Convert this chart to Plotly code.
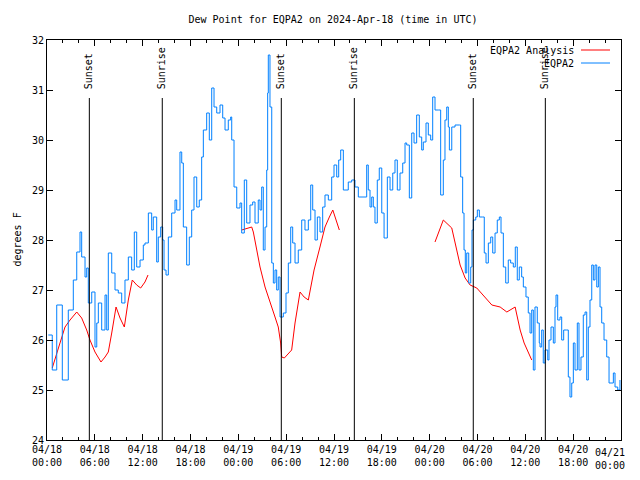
import pandas as pd
import plotly.graph_objects as go

# Observed dew point (EQPA2): hours after 2024-04-18 00:00 UTC and value (deg F)
obs_hours = [0.16, 0.66, 1.22, 1.92, 2.67, 3.01, 3.30, 3.73, 4.14, 4.35, 4.77, 4.98, 5.18, 5.61,
             6.02, 6.24, 6.44, 6.86, 7.28, 7.49, 7.69, 8.12, 8.53, 8.94, 9.37, 9.78, 10.20, 10.62,
             10.95, 11.25, 11.67, 12.08, 12.29, 12.71, 13.13, 13.33, 13.76, 13.96, 14.26, 14.51,
             14.68, 14.93, 15.22, 15.64, 16.06, 16.27, 16.68, 16.90, 17.10, 17.52, 17.85, 18.15,
             18.44, 18.78, 19.10, 19.40, 19.61, 20.03, 20.36, 20.66, 20.95, 21.29, 21.70, 22.04,
             22.33, 22.74, 23.04, 23.17, 23.46, 23.80, 24.21, 24.42, 24.75, 25.05, 25.46, 25.80,
             26.09, 26.50, 26.72, 26.93, 27.13, 27.35, 27.56, 27.68, 27.76, 27.97, 28.19, 28.39,
             28.60, 28.81, 29.01, 29.23, 29.44, 29.64, 29.98, 30.27, 30.57, 30.82, 31.11, 31.52,
             31.95, 32.36, 32.78, 33.08, 33.33, 33.62, 33.91, 34.24, 34.58, 34.87, 35.29, 35.71,
             36.00, 36.34, 36.59, 36.84, 37.17, 37.38, 37.79, 38.22, 38.63, 39.05, 39.89, 40.10,
             40.30, 40.52, 40.73, 40.93, 41.14, 41.43, 41.68, 41.99, 42.28, 42.49, 42.69, 43.03,
             43.37, 43.65, 43.94, 44.28, 44.62, 44.91, 45.12, 45.45, 45.75, 46.04, 46.37, 46.70,
             47.00, 47.20, 47.54, 47.83, 48.13, 48.38, 48.67, 49.08, 49.38, 49.71, 49.92, 50.14,
             50.34, 50.47, 50.77, 51.18, 51.72, 51.89, 52.14, 52.31, 52.47, 52.65, 52.90, 53.15,
             53.31, 53.48, 53.78, 53.98, 54.23, 54.65, 54.85, 55.07, 55.36, 55.66, 55.91, 56.20,
             56.48, 56.74, 56.95, 57.24, 57.54, 57.86, 58.16, 58.49, 58.74, 58.99, 59.24, 59.54,
             59.75, 60.08, 60.37, 60.59, 60.80, 61.00, 61.21, 61.50, 61.75, 61.84, 62.05, 62.25,
             62.47, 62.81, 62.97, 63.22, 63.51, 63.72, 63.85, 64.06, 64.35, 64.56, 64.81, 65.19,
             65.39, 65.60, 65.82, 66.02, 66.23, 66.52, 66.73, 66.98, 67.27, 67.49, 67.70, 67.90,
             68.11, 68.33, 68.53, 68.74, 68.96, 69.16, 69.37, 69.58, 69.87, 70.21, 70.50, 70.75,
             71.04, 71.25, 71.59, 71.87]
obs_vals = [26.1, 25.4, 26.7, 25.2, 26.6, 26.6, 27.2, 27.76, 28.16, 27.66, 27.26, 27.44, 26.74, 26.96,
            25.86, 26.34, 26.74, 26.2, 26.9, 26.2, 27.74, 27.34, 27.0, 26.94, 26.74, 27.2, 27.66, 27.4,
            28.16, 27.46, 27.6, 27.9, 27.94, 28.54, 28.2, 28.46, 27.56, 28.06, 28.26, 28.0,
            27.4, 27.3, 28.06, 28.54, 28.8, 28.6, 29.76, 29.54, 28.26, 27.5, 28.06, 28.6,
            29.26, 28.66, 28.8, 29.66, 30.2, 30.54, 30.0, 31.04, 30.66, 30.54, 30.7, 30.44,
            30.2, 30.4, 30.46, 30.0, 29.06, 28.64, 28.74, 28.14, 29.2, 28.34, 28.7, 28.76,
            28.34, 28.8, 28.6, 29.06, 27.8, 28.26, 29.4, 30.94, 31.7, 30.66, 27.54, 27.14,
            27.4, 27.0, 27.26, 26.46, 26.46, 26.54, 26.94, 27.54, 28.26, 27.94, 27.54, 27.8,
            28.4, 28.2, 28.4, 29.1, 28.6, 28.0, 28.46, 28.16, 28.66, 28.9, 28.8, 29.26,
            29.5, 29.26, 29.6, 29.8, 29.0, 29.0, 29.16, 29.2, 29.06, 28.86, 28.86, 29.5,
            29.0, 28.66, 28.86, 28.66, 28.34, 29.2, 29.44, 28.54, 28.04, 28.04, 29.26, 29.0,
            29.34, 29.6, 29.0, 29.34, 29.54, 29.94, 29.9, 28.84, 30.14, 29.94, 30.5, 30.06,
            29.8, 29.96, 30.34, 30.1, 30.0, 30.86, 30.6, 30.6, 28.9, 29.6, 30.4, 30.66,
            30.26, 29.8, 30.26, 30.3, 30.3, 29.26, 28.54, 27.8, 27.34, 27.74, 27.14, 27.46,
            28.2, 28.4, 28.46, 28.6, 28.46, 28.46, 27.74, 27.54, 27.94, 28.06, 27.74, 28.14,
            28.4, 28.46, 28.14, 27.46, 27.14, 27.6, 27.54, 27.46, 27.86, 27.2, 27.46, 27.26,
            27.06, 26.86, 26.54, 26.14, 26.6, 25.4, 26.66, 26.34, 25.94, 25.86, 26.2, 25.54,
            25.8, 25.6, 26.0, 26.26, 25.94, 26.66, 26.9, 26.4, 26.46, 26.0, 26.2, 26.2,
            25.26, 24.86, 25.14, 25.94, 25.4, 26.34, 25.4, 25.66, 26.5, 26.56, 25.2, 26.26,
            26.8, 27.5, 27.2, 27.5, 27.06, 27.46, 26.66, 26.34, 26.0, 25.66, 25.14, 25.14,
            25.34, 25.06, 25.0, 25.2]

# Analysis dew point (None = gap)
ana_hours = [0.66, 1.00, 1.63, 2.26, 2.89, 3.73, 4.35, 4.98, 5.39, 6.02, 6.77, 7.28, 7.69, 8.12,
             8.66, 9.16, 9.70, 10.20, 10.70, 11.25, 11.75, 12.29, 12.67, 18.0,
             24.42, 25.68, 25.88, 26.31, 26.72, 27.35, 27.97, 28.60, 29.01, 29.31, 29.44, 29.77,
             30.69, 31.11, 31.74, 32.25, 32.78, 33.50, 34.24, 34.87, 35.42, 35.85, 36.26, 36.67, 42.0,
             48.67, 49.71, 50.77, 51.41, 51.82, 52.45, 53.07, 53.91, 54.95, 55.80, 56.84, 57.68,
             58.72, 59.35, 59.85, 60.80]
ana_vals = [25.44, 25.6, 25.94, 26.26, 26.4, 26.56, 26.44, 26.2, 26.0, 25.76, 25.56, 25.66, 25.76, 26.14,
            26.66, 26.44, 26.26, 26.8, 27.2, 27.1, 27.04, 27.16, 27.3, None,
            28.2, 28.26, 28.16, 27.8, 27.46, 27.06, 26.74, 26.46, 26.26, 25.94, 25.66, 25.64,
            25.8, 26.34, 26.96, 26.86, 26.8, 27.4, 27.86, 28.26, 28.46, 28.6, 28.4, 28.2, None,
            27.96, 28.4, 28.24, 27.8, 27.5, 27.24, 27.1, 27.04, 26.86, 26.7, 26.66, 26.56,
            26.66, 26.2, 25.94, 25.6]

# Sun events (hours after 2024-04-18 00:00 UTC)
sun_hours = [5.31, 14.46, 29.39, 38.55, 53.47, 62.51]
sun_labels = ["Sunset", "Sunrise", "Sunset", "Sunrise", "Sunset", "Sunrise"]

y_ticks = [24, 25, 26, 27, 28, 29, 30, 31, 32]
last_tick_label = "04/21<br>00:00"

base = pd.Timestamp("2024-04-18 00:00")
to_t = lambda h: base + pd.to_timedelta(h, unit="h")
obs_t = [to_t(h) for h in obs_hours]
ana_t = [to_t(h) for h in ana_hours]

FONT = "DejaVu Sans Mono"
RED = "#ff0000"
BLUE = "#0080ff"

# the page body adds an 8px offset; figure sized to fit the window without scrollbars
W, H = 624, 464
L, T, PW, PH = 39, 32, 574, 400

fig = go.Figure()
fig.add_trace(go.Scatter(x=ana_t, y=ana_vals, mode="lines", name="EQPA2 Analysis",
                         line=dict(color=RED, width=1), connectgaps=False, showlegend=False))
fig.add_trace(go.Scatter(x=obs_t, y=obs_vals, mode="lines", name="EQPA2",
                         line=dict(color=BLUE, width=1, shape="hv"), showlegend=False))

top_frac = (440 - 98) / 400
for h, lab in zip(sun_hours, sun_labels):
    t = to_t(h)
    fig.add_shape(type="line", xref="x", yref="paper", x0=t, x1=t, y0=0, y1=top_frac,
                  line=dict(color="black", width=1))
    fig.add_annotation(x=t, y=(440 - 91) / 400, xref="x", yref="paper", text=lab,
                       textangle=-90, showarrow=False, xanchor="center", yanchor="bottom",
                       font=dict(family=FONT, size=10, color="black"))

# gnuplot-style legend (text left, sample right)
for i, (name, col) in enumerate([("EQPA2 Analysis", RED), ("EQPA2", BLUE)]):
    yy = (440 - 50 - 13 * i) / 400
    fig.add_annotation(x=(576 - 47) / 574, y=yy, xref="paper", yref="paper", text=name,
                       showarrow=False, xanchor="right", yanchor="middle",
                       font=dict(family=FONT, size=10, color="black"))
    fig.add_shape(type="line", xref="paper", yref="paper", x0=(581 - 47) / 574,
                  x1=(610 - 47) / 574, y0=yy, y1=yy, line=dict(color=col, width=1))

# last x tick label (kept inside the figure, as gnuplot does)
fig.add_annotation(x=to_t(72), y=0, xref="x", yref="paper", text=last_tick_label,
                   showarrow=False, xanchor="right", yanchor="top", xshift=6, yshift=-5,
                   font=dict(family=FONT, size=10, color="black"))

# y-axis title (gnuplot style, far left)
fig.add_annotation(x=-(L - 1) / PW, y=0.5, xref="paper", yref="paper",
                   text="degrees F", textangle=-90, showarrow=False,
                   xanchor="left", yanchor="middle",
                   font=dict(family=FONT, size=10, color="black"))

fig.update_layout(
    width=W, height=H,
    margin=dict(l=L, r=W - L - PW, t=T, b=H - T - PH, autoexpand=False),
    paper_bgcolor="white", plot_bgcolor="white",
    font=dict(family=FONT, size=10, color="black"),
    title=dict(text="Dew Point for EQPA2 on 2024-Apr-18 (time in UTC)", x=325 / W, xanchor="center",
               y=1 - 11 / H, yanchor="middle", font=dict(family=FONT, size=10)),
    showlegend=False,
)
fig.update_xaxes(
    range=[base, to_t(72)], type="date", automargin=False,
    tickmode="linear", tick0=base, dtick=6 * 3600 * 1000,
    tickformat="%m/%d<br>%H:%M", ticks="inside", ticklen=6, tickcolor="black",
    minor=dict(dtick=2 * 3600 * 1000, ticks="inside", ticklen=3, tickcolor="black"),
    showline=True, linecolor="black", linewidth=1, mirror="ticks", showgrid=False,
    zeroline=False, tickfont=dict(family=FONT, size=10),
)
fig.update_yaxes(
    range=[24, 32], tickvals=y_ticks, ticks="inside", ticklen=6, tickcolor="black",
    automargin=False,
    showline=True, linecolor="black", linewidth=1, mirror="ticks", showgrid=False,
    zeroline=False, tickfont=dict(family=FONT, size=10),
)

fig.write_html("out.html")
